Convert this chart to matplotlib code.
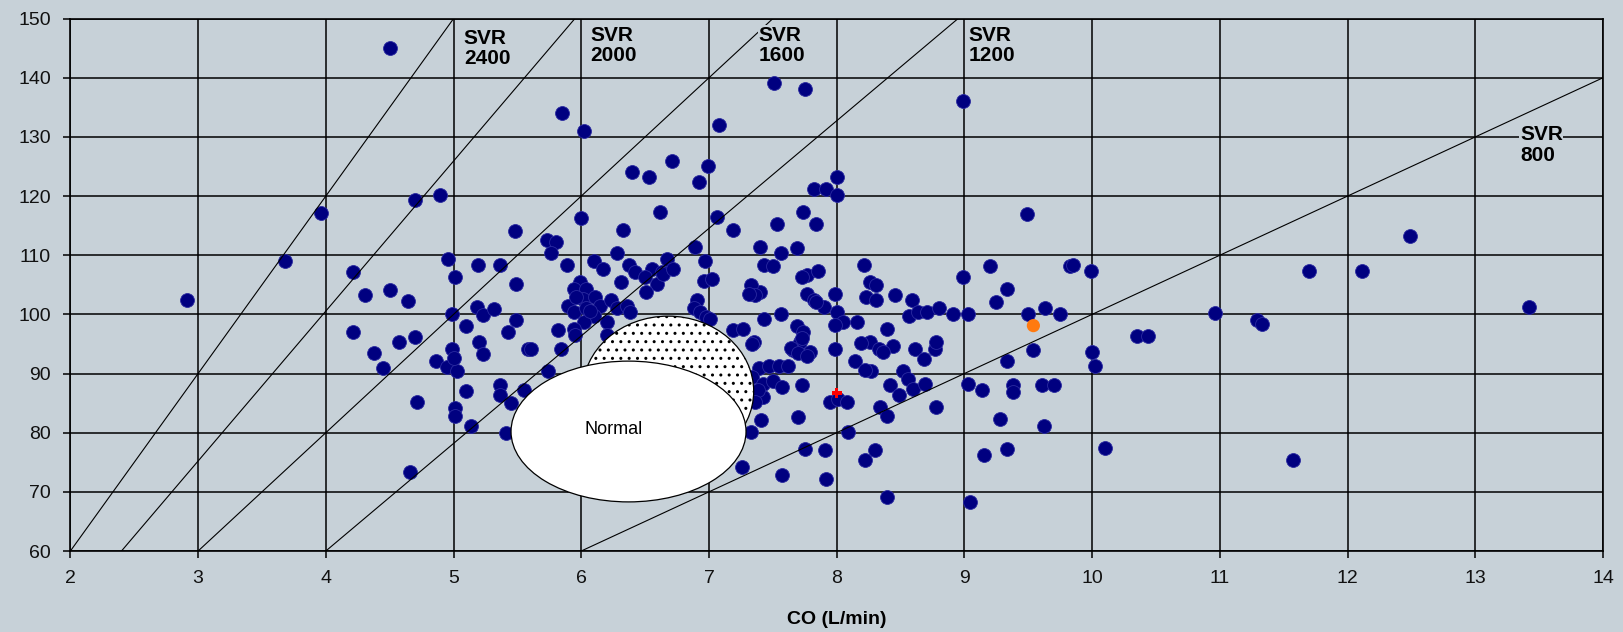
import matplotlib.pyplot as plt
from matplotlib.patches import Ellipse

# patient measurements: cardiac output (L/min) vs mean arterial pressure
co = [2.91, 3.68, 3.96,
      4.50, 5.85, 6.02, 7.51, 7.75, 7.08, 8.99, 6.71, 6.99,
      4.70, 4.89, 5.48, 4.96, 4.21, 5.19, 5.36, 5.01, 5.49, 4.31, 4.50, 4.64,
      4.99, 5.18, 5.23, 5.32, 5.10, 5.49, 5.43, 5.58, 4.21, 4.57, 4.70, 4.38,
      4.45, 5.20, 5.23, 4.99, 4.86, 4.95, 5.03, 5.00, 5.10, 5.36, 5.36, 5.45,
      5.55, 4.71, 5.01, 5.01, 5.14, 5.41, 4.66,
      6.40, 6.53, 6.92, 6.00, 6.62, 6.33, 5.73, 5.80, 5.76, 5.89, 6.10, 6.17,
      6.28, 6.37, 6.42, 6.31, 6.55, 6.59, 6.51, 6.63, 6.67, 6.89, 6.97, 6.96,
      6.91, 6.88, 6.93,
      5.99, 5.94, 6.04, 5.90, 6.01, 6.11, 5.94, 6.04, 6.15, 6.23, 6.28, 6.36,
      6.38, 6.10, 6.02, 5.94, 6.20, 5.96, 6.07,
      5.82, 5.61, 5.84, 5.95, 6.20, 5.74,
      6.50, 6.64, 6.72, 7.02, 7.40, 6.98,
      7.82, 7.92, 8.00, 8.00, 7.74, 7.84, 7.53, 7.19, 7.06, 7.40, 7.56, 7.69,
      7.43, 7.50, 7.77, 7.85, 8.21, 8.26, 8.31, 8.23, 8.31, 7.33, 7.36, 7.31,
      7.77, 7.82, 7.90, 7.99, 8.00, 8.05, 8.16, 8.39, 8.26, 8.33, 7.01, 7.19,
      7.27, 7.35, 7.43, 7.56, 7.69, 7.74, 7.71, 7.79, 7.66, 7.99, 8.14, 8.27,
      7.39, 7.47, 7.55, 7.62, 7.34, 7.42, 7.50, 7.57, 7.42, 7.38, 7.73, 7.34,
      7.64, 7.70, 7.77, 8.19, 8.22,
      7.36, 7.95, 8.01, 8.08, 8.34, 8.39, 7.41, 7.70, 7.33, 8.09, 7.75, 7.91,
      8.22, 8.30, 7.26, 7.57, 7.92, 8.39,
      7.73, 7.84, 7.99, 8.46, 7.73, 8.44,
      9.49, 9.20, 9.83, 8.99, 9.33, 9.25, 8.59, 8.57, 8.64, 8.71, 8.80, 8.91,
      9.03, 9.50, 9.63, 9.75, 9.54, 9.33, 8.36, 8.61, 8.68, 8.77, 8.78, 8.52,
      8.56, 8.42, 8.49, 8.60, 8.69, 9.03, 9.14, 9.38, 9.38, 9.61, 9.70, 8.78,
      9.28, 9.62, 9.15, 9.33, 9.04,
      9.85, 9.99, 10.00, 10.02, 10.10, 10.35, 10.44, 10.96, 11.29, 11.33,
      11.57, 11.70, 12.11, 12.49, 13.42]
map_ = [102.4, 109.1, 117.1,
        145.0, 134.1, 131.0, 139.1, 138.1, 132.0, 136.1, 126.0, 125.0,
        119.3, 120.1, 114.1, 109.3, 107.2, 108.3, 108.3, 106.3, 105.2, 103.2, 104.2, 102.2,
        100.1, 101.2, 99.9, 100.9, 98.1, 99.1, 97.1, 94.2, 97.1, 95.3, 96.1, 93.5,
        90.9, 95.3, 93.3, 94.2, 92.2, 91.1, 90.5, 92.6, 87.1, 88.0, 86.3, 85.1,
        87.2, 85.2, 84.1, 82.9, 81.2, 80.0, 73.3,
        124.1, 123.2, 122.3, 116.3, 117.3, 114.2, 112.5, 112.2, 110.3, 108.3, 109.1, 107.7,
        110.3, 108.3, 107.2, 105.5, 107.7, 105.2, 103.8, 107.2, 109.4, 111.4, 109.0, 105.7,
        102.4, 101.0, 100.4,
        105.5, 104.3, 104.3, 101.5, 102.6, 102.9, 100.4, 101.0, 101.5, 102.4, 101.0, 101.5,
        100.4, 99.8, 98.7, 97.6, 98.7, 103.0, 100.5,
        97.3, 94.2, 94.2, 96.5, 96.5, 90.5,
        106.3, 106.8, 107.6, 106.0, 103.7, 99.5,
        121.2, 121.2, 123.2, 120.1, 117.3, 115.3, 115.3, 114.2, 116.4, 111.4, 110.3, 111.2,
        108.3, 108.2, 106.6, 107.4, 108.3, 105.5, 104.9, 102.9, 102.4, 104.9, 103.2, 103.5,
        103.5, 102.4, 101.2, 103.5, 100.4, 98.7, 98.7, 97.6, 95.3, 94.2, 99.3, 97.3,
        97.6, 95.3, 99.3, 100.1, 98.1, 97.0, 95.3, 93.6, 93.9, 94.2, 92.2, 90.5,
        90.9, 91.2, 91.2, 91.2, 89.4, 88.3, 88.8, 87.7, 86.1, 87.2, 88.0, 95.0,
        94.3, 93.5, 92.9, 95.1, 90.6,
        85.2, 85.2, 85.7, 85.2, 84.3, 82.9, 82.1, 82.6, 80.1, 80.1, 77.3, 77.0,
        75.3, 77.0, 74.2, 72.8, 72.2, 69.1,
        106.3, 102.1, 98.2, 103.2, 96.0, 94.6,
        117.0, 108.2, 108.2, 106.3, 104.3, 102.1, 102.4, 99.8, 100.4, 100.4, 101.0, 100.1,
        100.1, 100.1, 101.1, 100.1, 93.9, 92.2, 93.6, 94.2, 92.5, 94.2, 95.3, 90.5,
        89.1, 88.0, 86.3, 87.4, 88.3, 88.3, 87.2, 88.0, 86.9, 88.1, 88.1, 84.3,
        82.3, 81.2, 76.3, 77.2, 68.3,
        108.3, 107.3, 93.6, 91.2, 77.4, 96.4, 96.4, 100.2, 99.1, 98.3,
        75.4, 107.3, 107.3, 113.2, 101.2]

current_co, current_map = [8.0], [86.7]
highlight_co, highlight_map = [9.54], [98.1]

# iso-resistance lines (dyn*s/cm5), endpoints as drawn on the chart
svr_values = [2400, 2000, 1600, 1200, 800]
svr_co_start = [2.0, 2.4, 3.0, 4.0, 6.0]
svr_map_start = [60, 60, 60, 60, 60]
svr_co_end = [5.0, 5.95, 7.5, 8.95, 14.0]
svr_map_end = [150, 150, 150, 150, 140]
label_co = [5.08, 6.07, 7.39, 9.03, 13.35]
label_map = [148.3, 148.8, 148.8, 148.8, 132.0]

# "normal" regions
normal_center, normal_w, normal_h = (6.37, 80.2), 1.84, 23.8
dotted_center, dotted_w, dotted_h = (6.68, 87.0), 1.34, 25.4

bg = '#c7d1d8'
plt.rcParams['hatch.linewidth'] = 1.0

fig = plt.figure(figsize=(16.24, 6.32), dpi=100, facecolor=bg)
ax = fig.add_axes([0.04335, 0.12816, 0.94372, 0.84241])
ax.set_facecolor(bg)

ax.scatter(co, map_, s=100, c='#000080', edgecolors='#2a2aa0', linewidths=0.6, zorder=3)

for x0, y0, x1, y1 in zip(svr_co_start, svr_map_start, svr_co_end, svr_map_end):
    ax.plot([x0, x1], [y0, y1], color='black', lw=0.8, zorder=4)

for v, x, y in zip(svr_values, label_co, label_map):
    ax.text(x, y, f"SVR\n{v}", ha='left', va='top', fontsize=15, fontweight='bold',
            family=['Liberation Sans', 'DejaVu Sans'], linespacing=1.1, zorder=7,
            bbox=dict(facecolor=bg, edgecolor='none', pad=0.5))

ax.add_patch(Ellipse(dotted_center, dotted_w, dotted_h, facecolor='white',
                     edgecolor='black', lw=0.9, hatch='..', zorder=5))
ax.add_patch(Ellipse(normal_center, normal_w, normal_h, facecolor='white',
                     edgecolor='black', lw=0.9, zorder=6))
ax.text(6.25, 80.6, "Normal", ha='center', va='center', fontsize=13,
        family=['Liberation Sans', 'DejaVu Sans'], zorder=8)

ax.scatter(highlight_co, highlight_map, s=90, c='#ff7a10', edgecolors='none', zorder=3.5)
ax.scatter(current_co, current_map, s=55, marker='P', c='#ff0000', edgecolors='none', zorder=3.5)

ax.set_xlim(2, 14)
ax.set_ylim(60, 150)
ax.set_xticks(range(2, 15))
ax.set_yticks(range(60, 151, 10))
ax.grid(True, color='black', lw=1.1)
ax.set_axisbelow(True)
for sp in ax.spines.values():
    sp.set_color('black')
    sp.set_linewidth(1.2)
ax.tick_params(direction='out', length=5, width=1.1, color='black',
               labelsize=14, labelcolor='#111111', pad=9)
for lab in ax.get_xticklabels() + ax.get_yticklabels():
    lab.set_family(['Liberation Sans', 'DejaVu Sans'])

fig.text(0.5153, 0.019, "CO (L/min)", ha='center', va='center', fontsize=14,
         fontweight='bold', family=['Liberation Sans', 'DejaVu Sans'])

fig.savefig('out.png', dpi=100, facecolor=bg)
